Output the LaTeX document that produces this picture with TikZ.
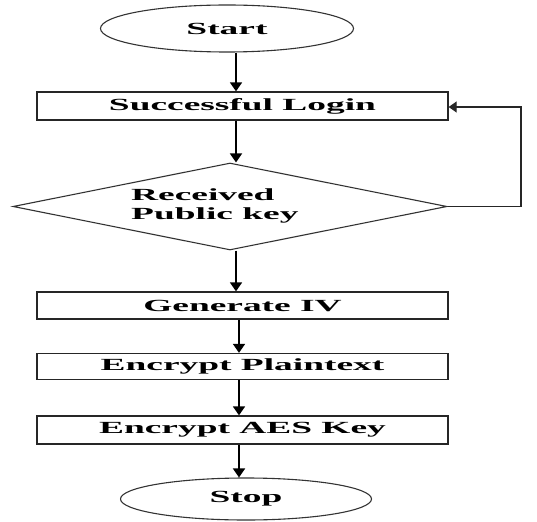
\documentclass[tikz,border=0pt]{standalone}
\usepackage{fontspec}
\setmainfont{Liberation Serif}
\usetikzlibrary{shapes.geometric,arrows.meta}
\newcommand{\wt}[1]{\scalebox{2.2}[1]{#1}}
\tikzset{
  box/.style={draw=black!85, line width=1.3pt, rectangle, minimum width=411pt, inner sep=0pt, font=\fontsize{17}{19}\selectfont\bfseries},
  term/.style={draw=black!80, line width=1.1pt, ellipse, inner sep=0pt, font=\fontsize{17}{19}\selectfont\bfseries},
  dec/.style={draw=black!80, line width=1.1pt, diamond, inner sep=0pt, minimum width=434pt, minimum height=87pt, aspect=5},
  flow/.style={draw=black, line width=1.7pt, -{Triangle[width=12pt,length=9pt]}}
}
\begin{document}
\begin{tikzpicture}[x=1pt,y=1pt]
\useasboundingbox (0,0) rectangle (537,-521);
\node[term, minimum width=253pt, minimum height=47pt] (start) at (227,-28.5) {\wt{Start}};
\node[box, minimum height=28pt] (login) at (242.5,-106) {\wt{Successful Login}};
\node[dec] (dec) at (230,-206.5) {};
\node[font=\fontsize{17}{19}\selectfont\bfseries, align=left, inner sep=0pt, anchor=west] (dtext) at (131,-205.5) {\wt{Received}\\\wt{Public key}};
\node[box, minimum height=27pt] (iv) at (242.5,-305.5) {\wt{Generate IV}};
\node[box, minimum height=26pt] (encp) at (242.5,-366.5) {\wt{Encrypt Plaintext}};
\node[box, minimum height=28pt] (enck) at (242.5,-430) {\wt{Encrypt AES Key}};
\node[term, minimum width=251pt, minimum height=42pt] (stop) at (246,-499) {\wt{Stop}};
\coordinate (a1) at (236,0);
\coordinate (a2) at (239,0);
\coordinate (fb) at (521,-107);
\draw[flow] (start.south -| a1) -- (login.north -| a1);
\draw[flow] (login.south -| a1) -- (dec.north -| a1);
\draw[flow] (dec.south -| a1) -- (iv.north -| a1);
\draw[flow] (iv.south -| a2) -- (encp.north -| a2);
\draw[flow] (encp.south -| a2) -- (enck.north -| a2);
\draw[flow] (enck.south -| a2) -- (stop.north -| a2);
\draw[draw=black!85, line width=1.3pt, -{Triangle[width=11pt,length=8pt]}] (dec.east) -| (fb) -- (login.east |- fb);
\end{tikzpicture}
\end{document}
